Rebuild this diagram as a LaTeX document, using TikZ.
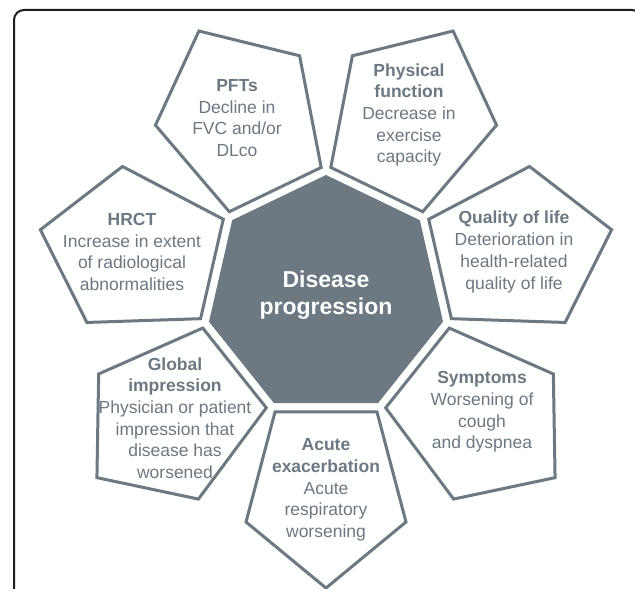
\documentclass[tikz,border=0pt]{standalone}
\usepackage{fontspec}
\setmainfont{Liberation Sans}
\usetikzlibrary{shapes.geometric}
\definecolor{slate}{RGB}{108,120,130}
\definecolor{framegray}{RGB}{30,30,30}
\newcommand{\petal}[1]{%
  \begin{scope}[shift={(326,294)},rotate=#1-90]
    \draw[petalline] (-51,117) -- (51,117) -- (80,227) -- (0,293) -- (-80,227) -- cycle;
  \end{scope}}

\begin{document}
\begin{tikzpicture}[x=1pt,y=1pt,
  petalline/.style={draw=slate,line width=3pt,fill=white},
  txt/.style={align=center,text=slate,inner sep=0pt,font=\fontsize{17.5}{21.7}\selectfont},
  hept/.style={regular polygon,regular polygon sides=7,minimum size=240pt,inner sep=0pt,
    fill=slate,text=white,align=center,font=\fontsize{23}{26.7}\selectfont\bfseries}]
  \clip (0,0) rectangle (635,589);
  \fill[white] (0,0) rectangle (635,589);
  \draw[framegray,line width=2pt,rounded corners=10pt] (14,-30) rectangle (642,579);
  % the seven petals round the core
  \petal{115.71}
  \petal{64.29}
  \petal{167.14}
  \petal{12.86}
  \petal{218.57}
  \petal{321.43}
  \petal{270}
  \node (core) at (326,294) [hept] {Disease\\progression};
  \node (pfts) at (237,471) [txt] {\textbf{PFTs}\\Decline in\\FVC and/or\\DLco};
  \node (phys) at (409,474) [txt] {\textbf{Physical}\\\textbf{function}\\Decrease in\\exercise\\capacity};
  \node (hrct) at (132,337) [txt] {\textbf{HRCT}\\Increase in extent\\of radiological\\abnormalities};
  \node (qol) at (514,337) [txt] {\textbf{Quality of life}\\Deterioration in\\health-related\\quality of life};
  \node (glob) at (175,171) [txt] {\textbf{Global}\\\textbf{impression}\\Physician or patient\\impression that\\disease has\\worsened};
  \node (symp) at (482,177) [txt] {\textbf{Symptoms}\\Worsening of\\cough\\and dyspnea};
  \node (acute) at (326,99) [txt] {\textbf{Acute}\\\textbf{exacerbation}\\Acute\\respiratory\\worsening};
\end{tikzpicture}
\end{document}
